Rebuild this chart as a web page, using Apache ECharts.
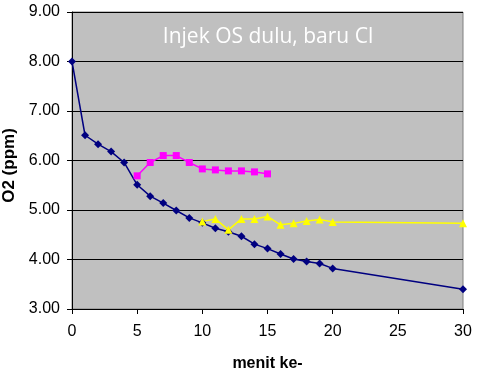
<!DOCTYPE html>
<html><head><meta charset="utf-8">
<script src="https://cdn.jsdelivr.net/npm/echarts@6/dist/echarts.min.js"></script>
<style>html,body{margin:0;padding:0;background:#fff}#c{width:478px;height:375px}</style>
</head><body><div id="c"></div>
<script>
const titleText = "Injek OS dulu, baru Cl";
const xName = "menit ke-";
const yName = "O2 (ppm)";
const blueX = [0,1,2,3,4,5,6,7,8,9,10,11,12,13,14,15,16,17,18,19,20,30];
const blueY = [8.00,6.51,6.33,6.18,5.96,5.51,5.28,5.14,4.99,4.84,4.74,4.63,4.56,4.47,4.31,4.22,4.11,4.01,3.96,3.92,3.82,3.40];
const magX = [5,6,7,8,9,10,11,12,13,14,15];
const magY = [5.69,5.96,6.10,6.10,5.96,5.83,5.81,5.79,5.79,5.77,5.73];
const yelX = [10,11,12,13,14,15,16,17,18,19,20,30];
const yelY = [4.77,4.82,4.60,4.82,4.82,4.87,4.70,4.73,4.78,4.81,4.76,4.73];

const pairs = (xs, ys) => xs.map((x, i) => [x, ys[i]]);
const chart = echarts.init(document.getElementById('c'));
chart.setOption({
  animation: false,
  backgroundColor: '#ffffff',
  title: {
    text: titleText, left: 263, top: 22, textAlign: 'center',
    textStyle: { color: '#ffffff', fontFamily: 'Open Sans', fontWeight: 'normal', fontSize: 21 }
  },
  grid: { left: 72, top: 12, right: 15, bottom: 66, containLabel: false, outerBoundsMode: 'none',
    show: true, backgroundColor: '#c0c0c0', borderColor: '#808080', borderWidth: 1 },
  xAxis: {
    type: 'value', min: 0, max: 30, interval: 5,
    name: xName, nameLocation: 'middle', nameGap: 47,
    nameTextStyle: { fontFamily: 'Liberation Sans', fontWeight: 'bold', fontSize: 16, color: '#000' },
    axisLine: { show: true, onZero: false, lineStyle: { color: '#000', width: 1 } },
    axisTick: { show: true, inside: false, length: 5, lineStyle: { color: '#000' } },
    axisLabel: { fontFamily: 'Liberation Sans', fontSize: 16, color: '#000', margin: 15 },
    splitLine: { show: false }
  },
  yAxis: {
    type: 'value', min: 3, max: 9, interval: 1,
    name: yName, nameLocation: 'middle', nameGap: 42, nameRotate: 90,
    nameTextStyle: { fontFamily: 'Liberation Sans', fontWeight: 'bold', fontSize: 17, color: '#000', padding: [0, 10, 0, 0] },
    axisLine: { show: true, onZero: false, lineStyle: { color: '#000', width: 1 } },
    axisTick: { show: true, inside: false, length: 5, lineStyle: { color: '#000' } },
    axisLabel: { fontFamily: 'Liberation Sans', fontSize: 16, color: '#000', margin: 12, formatter: v => v.toFixed(2) },
    splitLine: { show: true, lineStyle: { color: '#000', width: 1 } }
  },
  series: [
    { type: 'line', data: pairs(blueX, blueY), symbol: 'diamond', symbolSize: 8,
      lineStyle: { color: '#000080', width: 1.5 }, itemStyle: { color: '#000080' } },
    { type: 'line', data: pairs(magX, magY), symbol: 'rect', symbolSize: 7,
      lineStyle: { color: '#ff00ff', width: 1.5 }, itemStyle: { color: '#ff00ff' } },
    { type: 'line', data: pairs(yelX, yelY), symbol: 'triangle', symbolSize: 8,
      lineStyle: { color: '#ffff00', width: 1.5 }, itemStyle: { color: '#ffff00' } }
  ]
});
</script></body></html>
